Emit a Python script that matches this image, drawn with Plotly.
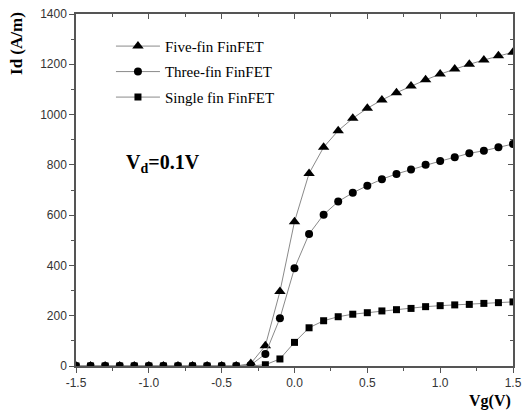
import plotly.graph_objects as go

# Gate voltage sweep (V)
vg = [round(-1.5 + 0.1 * i, 1) for i in range(31)]

# Drain current (A/m) for each device
five_fin = [0, 0, 0, 0, 0, 0, 0, 0, 0, 0, 0, 0, 10, 81, 296, 574, 766, 870,
            936, 985, 1025, 1058, 1087, 1114, 1138, 1161, 1181, 1200, 1217, 1234, 1248]
three_fin = [0, 0, 0, 0, 0, 0, 0, 0, 0, 0, 0, 0, 4, 48, 190, 389, 525, 602,
             654, 689, 717, 743, 764, 782, 800, 815, 830, 846, 856, 870, 883]
single_fin = [0, 0, 0, 0, 0, 0, 0, 0, 0, 0, 0, 0, 0, 5, 28, 94, 152, 180,
              196, 206, 212, 219, 224, 229, 236, 240, 243, 245, 249, 252, 255]

x_ticks = [-1.5, -1.0, -0.5, 0.0, 0.5, 1.0, 1.5]
y_ticks = [0, 200, 400, 600, 800, 1000, 1200, 1400]

series = [
    ("Five-fin FinFET", five_fin, "triangle-up", 10),
    ("Three-fin FinFET", three_fin, "circle", 8),
    ("Single fin FinFET", single_fin, "square", 7),
]

fig = go.Figure()
for name, vals, sym, size in series:
    fig.add_trace(go.Scatter(
        x=vg, y=vals, name=name, mode="lines+markers", legendgroup=name,
        line=dict(color="#8a8a8a", width=1),
        marker=dict(symbol=sym, size=size, color="black"),
    ))

axis_line = dict(showline=True, linecolor="#555555", linewidth=1.5,
                 showgrid=False, zeroline=False, automargin=False)
tick_font = dict(family="Liberation Sans", size=12, color="#333333")

fig.update_layout(
    width=527, height=410,
    margin=dict(l=76, r=14, t=14, b=44),
    paper_bgcolor="white", plot_bgcolor="white",
    showlegend=True,
    legend=dict(x=0.08, y=0.955, xanchor="left", yanchor="top",
                bgcolor="rgba(0,0,0,0)", itemwidth=44, tracegroupgap=3,
                font=dict(family="Liberation Serif", size=15, color="black")),
    xaxis=dict(range=[-1.5, 1.5], tickvals=x_ticks,
               ticktext=[f"{v:.1f}" for v in x_ticks],
               ticks="outside", ticklen=5, tickcolor="#555555",
               minor=dict(dtick=0.25, tick0=-1.5, ticks="outside", ticklen=3,
                          tickcolor="#555555"),
               tickfont=tick_font, **axis_line),
    yaxis=dict(range=[0, 1400], tickvals=y_ticks,
               ticks="outside", ticklen=5, tickcolor="#555555",
               minor=dict(dtick=100, ticks="outside", ticklen=3,
                          tickcolor="#555555"),
               tickfont=tick_font, **axis_line),
    xaxis2=dict(range=[-1.5, 1.5], overlaying="x", side="top", matches="x",
                tickvals=x_ticks, showticklabels=False,
                ticks="inside", ticklen=5, tickcolor="#555555",
                minor=dict(dtick=0.25, tick0=-1.5, ticks="inside", ticklen=3,
                           tickcolor="#555555"),
                **axis_line),
    yaxis2=dict(range=[0, 1400], overlaying="y", side="right",
                tickvals=y_ticks, showticklabels=False,
                ticks="inside", ticklen=5, tickcolor="#555555",
                minor=dict(dtick=100, ticks="inside", ticklen=3,
                           tickcolor="#555555"),
                **axis_line),
)

# Invisible trace to activate the mirrored frame axes
fig.add_trace(go.Scatter(x=[None], y=[None], xaxis="x2", yaxis="y2",
                         showlegend=False, hoverinfo="skip"))

fig.add_annotation(text="<b>Id (A/m)</b>", xref="paper", yref="paper",
                   x=-0.135, y=1.01, xanchor="center", yanchor="top",
                   textangle=-90, showarrow=False,
                   font=dict(family="Liberation Serif", size=17, color="black"))
fig.add_annotation(text="<b>Vg(V)</b>", xref="paper", yref="paper",
                   x=1.0, y=-0.1, xanchor="right", yanchor="middle",
                   showarrow=False,
                   font=dict(family="Liberation Serif", size=16, color="black"))
fig.add_annotation(text="<b>V<sub>d</sub>=0.1V</b>", xref="paper", yref="paper",
                   x=0.11, y=0.575, xanchor="left", yanchor="middle",
                   showarrow=False,
                   font=dict(family="Liberation Serif", size=20, color="black"))

fig.write_html("out.html")
